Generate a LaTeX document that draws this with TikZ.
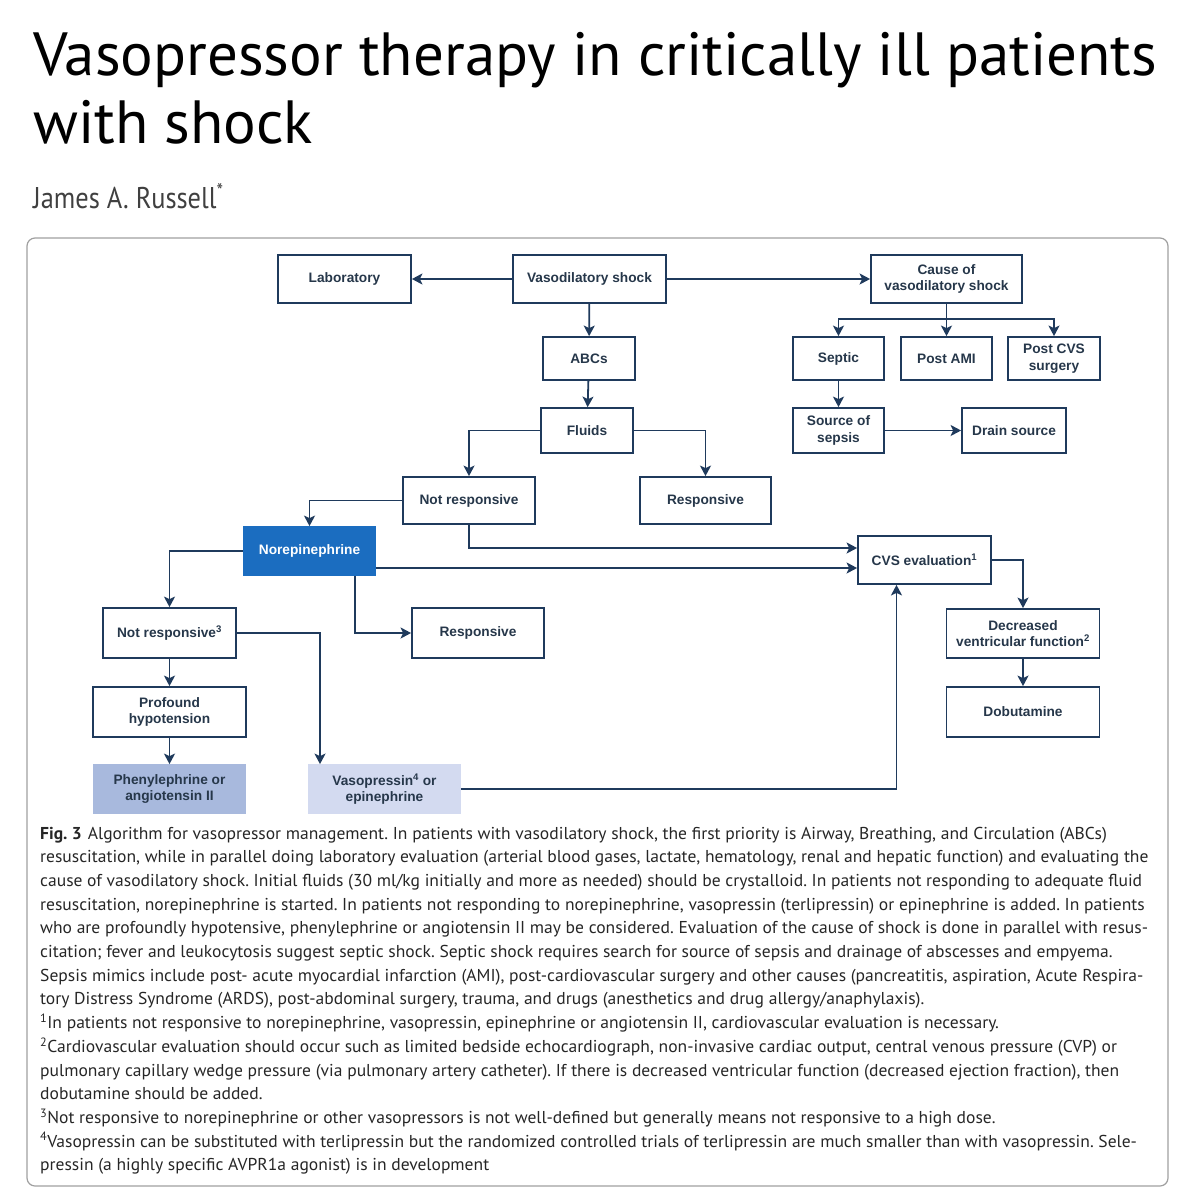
\documentclass[tikz,border=0pt]{standalone}
\usepackage{fontspec}
\setmainfont{PT Sans}
\newfontfamily\titlefont{PT Sans}
\newfontfamily\authorfont[FakeStretch=0.88]{PT Sans}
\newfontfamily\capfont[FakeStretch=1.02]{PT Sans}
\newfontfamily\boxfont{Liberation Sans}
\usetikzlibrary{arrows.meta}

\definecolor{linecol}{HTML}{1F3A5C}
\definecolor{boxtext}{HTML}{26374A}
\definecolor{norcol}{HTML}{1B6DC0}
\definecolor{phencol}{HTML}{A8B9DD}
\definecolor{vasocol}{HTML}{D3DAF0}
\definecolor{framecol}{HTML}{A0A0A0}

\begin{document}
\frenchspacing
\begin{tikzpicture}[
    x=1pt, y=-1pt,
    box/.style={
        rectangle, draw=linecol, line width=1.8pt, fill=white,
        align=center, inner sep=2pt, text=boxtext,
        font=\boxfont\bfseries\fontsize{13.7}{16.5}\selectfont
    },
    conn/.style={-{Stealth[length=10.5pt, width=11pt, inset=2.5pt]},
        draw=linecol, line width=1.8pt},
    capline/.style={anchor=base west, inner sep=0pt,
        font=\capfont\fontsize{17.2}{20}\selectfont, text=black!85},
]
    \useasboundingbox (0,0) rectangle (1200,1200);

    % ---------- Title and author ----------
    \node[anchor=base west, inner sep=0pt, font=\titlefont\fontsize{61}{61}\selectfont]
        (title1) at (33,75) {Vasopressor therapy in critically ill patients};
    \node[anchor=base west, inner sep=0pt, font=\titlefont\fontsize{61}{61}\selectfont]
        (title2) at (33,143) {with shock};
    \node[anchor=base west, inner sep=0pt, text=black!75,
          font=\authorfont\fontsize{30}{30}\selectfont]
        (author) at (33,208) {James A. Russell\textsuperscript{*}};

    % ---------- Figure frame ----------
    \draw[framecol, line width=1.2pt, rounded corners=8pt] (27,238) rectangle (1168,1186);

    % ---------- Top row ----------
    \node[box, minimum width=133pt, minimum height=48pt] (lab) at (344.5,279) {Laboratory};
    \node[box, minimum width=153pt, minimum height=48pt] (vshock) at (589.5,279) {Vasodilatory shock};
    \node[box, minimum width=151pt, minimum height=48pt] (cause) at (946.5,279) {Cause of\\vasodilatory shock};

    \draw[conn] (vshock) -- (lab);
    \draw[conn] (vshock) -- (cause);

    % ---------- Resuscitation column ----------
    \node[box, minimum width=92pt, minimum height=43pt] (abcs) at (589,358.5) {ABCs};
    \node[box, minimum width=92pt, minimum height=45pt] (fluids) at (587,430.5) {Fluids};
    \node[box, minimum width=132pt, minimum height=47pt] (notresp) at (469,500.5) {Not responsive};
    \node[box, minimum width=131pt, minimum height=47pt] (resp) at (705.5,500.5) {Responsive};

    \draw[conn] (vshock) -- (abcs);
    \draw[conn] (abcs) -- (fluids);
    \draw[conn] (fluids.west) -| (notresp.north);
    \draw[conn] (fluids.east) -| (resp.north);

    % ---------- Causes ----------
    \node[box, minimum width=91pt, minimum height=43pt] (septic) at (838.5,358.5) {Septic};
    \node[box, minimum width=91pt, minimum height=43pt] (postami) at (946.5,358.5) {Post AMI};
    \node[box, minimum width=92pt, minimum height=43pt] (postcvs) at (1054,358.5) {Post CVS\\surgery};
    \node[box, minimum width=91pt, minimum height=45pt] (source) at (838.5,430.5) {Source of\\sepsis};
    \node[box, minimum width=104pt, minimum height=45pt] (drain) at (1014,430.5) {Drain source};

    \draw[conn] (cause) -- (postami);
    \draw[conn] (cause.south) -- ++(0,15) -| (septic.north);
    \draw[conn] (cause.south) -- ++(0,15) -| (postcvs.north);
    \draw[conn] (septic) -- (source);
    \draw[conn] (source) -- (drain);

    % ---------- Vasopressors ----------
    \node[box, draw=norcol, fill=norcol, text=white, minimum width=131pt, minimum height=48pt]
        (norepi) at (309.5,551) {Norepinephrine};
    \node[box, minimum width=133pt, minimum height=50pt] (notresp3) at (169.5,633) {Not responsive\textsuperscript{3}};
    \node[box, minimum width=132pt, minimum height=50pt] (respnor) at (478,633) {Responsive};
    \node[box, minimum width=153pt, minimum height=50pt] (profound) at (169.5,712) {Profound\\hypotension};
    \node[box, draw=phencol, fill=phencol, minimum width=151pt, minimum height=48pt]
        (phenyl) at (169.5,789) {Phenylephrine or\\angiotensin II};
    \node[box, draw=vasocol, fill=vasocol, minimum width=151pt, minimum height=48pt]
        (vasopr) at (384.5,789) {Vasopressin\textsuperscript{4} or\\epinephrine};

    \draw[conn] (notresp.west) -| (norepi.north);
    \draw[conn] (norepi.west) -| (notresp3.north);
    \draw[conn] ([xshift=45.5pt]norepi.south) |- (respnor.west);
    \draw[conn] (notresp3) -- (profound);
    \draw[conn] (profound) -- (phenyl);
    \draw[conn] (notresp3.east) -| ([xshift=-64.5pt]vasopr.north);

    % ---------- Cardiovascular evaluation ----------
    \node[box, minimum width=133pt, minimum height=48pt] (cvs) at (924.5,560) {CVS evaluation\textsuperscript{1}};
    \node[box, minimum width=153pt, minimum height=49pt] (decr) at (1023,633.5) {Decreased\\ventricular function\textsuperscript{2}};
    \node[box, minimum width=153pt, minimum height=50pt] (dobut) at (1023,712) {Dobutamine};

    \draw[conn] (notresp.south) |- ([yshift=12pt]cvs.west);
    \draw[conn] ([yshift=-8pt]cvs.west -| norepi.east) -- ([yshift=-8pt]cvs.west);
    \draw[conn] (vasopr.east) -| ([xshift=-28pt]cvs.south);
    \draw[conn] (cvs.east) -| (decr.north);
    \draw[conn] (decr) -- (dobut);

    % ---------- Caption ----------
    \node[capline] (cap1) at (40,839) {\textbf{Fig. 3}\hspace{6pt}Algorithm for vasopressor management. In patients with vasodilatory shock, the first priority is Airway, Breathing, and Circulation (ABCs)};
    \node[capline] (cap2) at (40,862.7) {resuscitation, while in parallel doing laboratory evaluation (arterial blood gases, lactate, hematology, renal and hepatic function) and evaluating the};
    \node[capline] (cap3) at (40,886.4) {cause of vasodilatory shock. Initial fluids (30 ml/kg initially and more as needed) should be crystalloid. In patients not responding to adequate fluid};
    \node[capline] (cap4) at (40,910.1) {resuscitation, norepinephrine is started. In patients not responding to norepinephrine, vasopressin (terlipressin) or epinephrine is added. In patients};
    \node[capline] (cap5) at (40,933.8) {who are profoundly hypotensive, phenylephrine or angiotensin II may be considered. Evaluation of the cause of shock is done in parallel with resus-};
    \node[capline] (cap6) at (40,957.5) {citation; fever and leukocytosis suggest septic shock. Septic shock requires search for source of sepsis and drainage of abscesses and empyema.};
    \node[capline] (cap7) at (40,981.2) {Sepsis mimics include post- acute myocardial infarction (AMI), post-cardiovascular surgery and other causes (pancreatitis, aspiration, Acute Respira-};
    \node[capline] (cap8) at (40,1004.9) {tory Distress Syndrome (ARDS), post-abdominal surgery, trauma, and drugs (anesthetics and drug allergy/anaphylaxis).};
    \node[capline] (cap9) at (40,1028.6) {\textsuperscript{1}In patients not responsive to norepinephrine, vasopressin, epinephrine or angiotensin II, cardiovascular evaluation is necessary.};
    \node[capline] (cap10) at (40,1052.3) {\textsuperscript{2}Cardiovascular evaluation should occur such as limited bedside echocardiograph, non-invasive cardiac output, central venous pressure (CVP) or};
    \node[capline] (cap11) at (40,1076) {pulmonary capillary wedge pressure (via pulmonary artery catheter). If there is decreased ventricular function (decreased ejection fraction), then};
    \node[capline] (cap12) at (40,1099.7) {dobutamine should be added.};
    \node[capline] (cap13) at (40,1123.4) {\textsuperscript{3}Not responsive to norepinephrine or other vasopressors is not well-defined but generally means not responsive to a high dose.};
    \node[capline] (cap14) at (40,1147.1) {\textsuperscript{4}Vasopressin can be substituted with terlipressin but the randomized controlled trials of terlipressin are much smaller than with vasopressin. Sele-};
    \node[capline] (cap15) at (40,1170.8) {pressin (a highly specific AVPR1a agonist) is in development};

\end{tikzpicture}
\end{document}
